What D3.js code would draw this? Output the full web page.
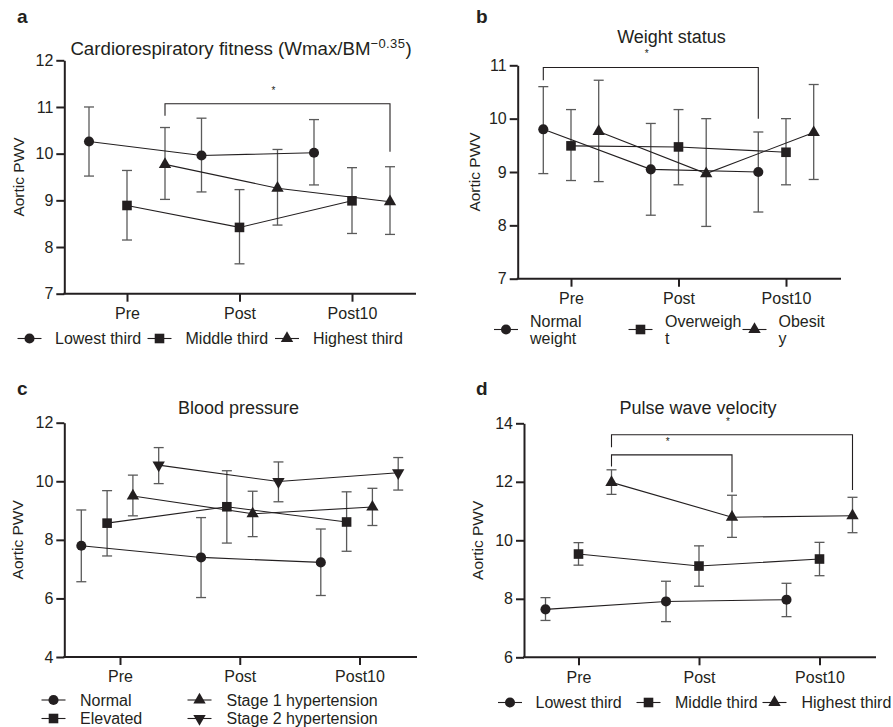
<!DOCTYPE html>
<html>
<head>
<meta charset="utf-8">
<script src="https://cdn.jsdelivr.net/npm/d3@7"></script>
<style>
  html, body { margin: 0; padding: 0; background: #fff; }
  svg { display: block; font-family: "Liberation Sans", Arial, Helvetica, sans-serif; }
</style>
</head>
<body>
<svg id="chart" width="893" height="727"></svg>
<script>
// ---------------- DATA ----------------
const timepoints = ["Pre", "Post", "Post10"];

// Panel a — Cardiorespiratory fitness
const aGroups = ["Lowest third", "Middle third", "Highest third"];
const aMean  = [[10.26, 9.96, 10.02], [8.89, 8.42, 8.99], [9.77, 9.26, 8.97]];
const aUpper = [[11.00, 10.76, 10.73], [9.64, 9.23, 9.70], [10.56, 10.09, 9.72]];
const aLower = [[9.52, 9.18, 9.33], [8.15, 7.64, 8.29], [9.02, 8.47, 8.27]];
const aTicks = [7, 8, 9, 10, 11, 12];
// significance brackets: [group, fromTime, toTime, top, leftEnd, rightEnd]
const aSig = [[2, 0, 2, 11.07, 10.81, 10.04]];

// Panel b — Weight status
const bGroups = [["Normal", "weight"], ["Overweigh", "t"], ["Obesit", "y"]];
const bMean  = [[9.80, 9.05, 9.00], [9.49, 9.47, 9.37], [9.76, 8.97, 9.74]];
const bUpper = [[10.60, 9.91, 9.75], [10.17, 10.17, 10.00], [10.72, 10.00, 10.64]];
const bLower = [[8.97, 8.19, 8.25], [8.84, 8.76, 8.76], [8.82, 7.98, 8.86]];
const bTicks = [7, 8, 9, 10, 11];
const bSig = [[0, 0, 2, 10.96, 10.72, 10.00]];

// Panel c — Blood pressure
const cGroups = ["Normal", "Elevated", "Stage 1 hypertension", "Stage 2 hypertension"];
const cMean  = [[7.80, 7.40, 7.23], [8.57, 9.13, 8.61], [9.50, 8.89, 9.12], [10.55, 9.99, 10.29]];
const cUpper = [[9.02, 8.76, 8.37], [9.68, 10.36, 9.64], [10.21, 9.66, 9.76], [11.15, 10.66, 10.81]];
const cLower = [[6.57, 6.03, 6.10], [7.45, 7.89, 7.61], [8.82, 8.11, 8.49], [9.92, 9.30, 9.70]];
const cTicks = [4, 6, 8, 10, 12];
const cSig = [];

// Panel d — Pulse wave velocity
const dGroups = ["Lowest third", "Middle third", "Highest third"];
const dMean  = [[7.64, 7.91, 7.97], [9.53, 9.12, 9.36], [11.98, 10.79, 10.84]];
const dUpper = [[8.04, 8.60, 8.53], [9.92, 9.81, 9.93], [12.41, 11.54, 11.47]];
const dLower = [[7.26, 7.22, 7.39], [9.15, 8.43, 8.79], [11.57, 10.10, 10.26]];
const dTicks = [6, 8, 10, 12, 14];
const dSig = [[2, 0, 2, 13.61, 13.18, 11.72], [2, 0, 1, 12.92, 12.52, 11.64]];

const markerTypes = ["circle", "square", "triangle", "triangleDown"];

// ---------------- DRAWING ----------------
const svg = d3.select("#chart");
const INK = "#231f20";
const BAR = "#5a5a5a";
const FONT = 16;

function symbolPath(type) {
  if (type === "circle") return d3.symbol().type(d3.symbolCircle).size(80)();
  if (type === "square") return d3.symbol().type(d3.symbolSquare).size(92)();
  return d3.symbol().type(d3.symbolTriangle).size(66)();
}
function drawMarker(g, type, x, y) {
  g.append("path")
    .attr("d", symbolPath(type))
    .attr("transform", `translate(${x},${y})` + (type === "triangleDown" ? " rotate(180)" : ""))
    .attr("fill", INK);
}

function drawPanel(cfg) {
  const g = svg.append("g");
  const y = d3.scaleLinear().domain(cfg.yDomain).range([cfg.bottom, cfg.top]);
  const x = d3.scalePoint().domain(timepoints).range(cfg.xTicks);
  const off = d3.scalePoint().domain(d3.range(cfg.mean.length)).range([-cfg.offset, cfg.offset]);
  const px = (gi, ti) => x(timepoints[ti]) + off(gi);

  // panel letter
  g.append("text").attr("x", cfg.letterPos[0]).attr("y", cfg.letterPos[1])
    .attr("font-size", 19).attr("font-weight", "bold").attr("fill", INK).text(cfg.letter);

  // title
  const t = g.append("text").attr("x", cfg.titlePos[0]).attr("y", cfg.titlePos[1])
    .attr("text-anchor", "middle").attr("font-size", cfg.titleSize || 18).attr("fill", INK);
  t.append("tspan").text(cfg.title);
  if (cfg.titleSup) {
    t.append("tspan").attr("font-size", 13).attr("dy", -6.5).attr("letter-spacing", 0.4).text(cfg.titleSup);
    t.append("tspan").attr("dy", 6.5).text(cfg.titleEnd);
  }

  // y axis
  const ya = g.append("g").attr("transform", `translate(${cfg.left},0)`)
    .call(d3.axisLeft(y).tickValues(cfg.ticks).tickSize(8).tickPadding(3).tickSizeOuter(0).tickFormat(d3.format("d")));
  ya.selectAll("path, line").attr("stroke", INK).attr("stroke-width", 2);
  ya.selectAll("text").attr("font-size", FONT).attr("fill", INK).attr("font-family", null);

  // x axis
  const xa = g.append("g").attr("transform", `translate(0,${cfg.bottom})`)
    .call(d3.axisBottom(x).tickSize(8).tickPadding(6).tickSizeOuter(0));
  xa.select(".domain").remove();
  xa.selectAll("line").attr("stroke", INK).attr("stroke-width", 2);
  xa.selectAll("text").attr("font-size", FONT).attr("fill", INK).attr("font-family", null);
  g.append("line").attr("x1", cfg.left - 1).attr("x2", cfg.right)
    .attr("y1", cfg.bottom).attr("y2", cfg.bottom).attr("stroke", INK).attr("stroke-width", 2);

  // y label
  g.append("text")
    .attr("transform", `translate(${cfg.yLabelX},${(cfg.top + cfg.bottom) / 2}) rotate(-90)`)
    .attr("text-anchor", "middle").attr("dy", "0.35em")
    .attr("font-size", 15.5).attr("fill", INK).text("Aortic PWV");

  // series
  cfg.mean.forEach((row, gi) => {
    row.forEach((v, ti) => {
      const cx = px(gi, ti);
      const hi = y(cfg.upper[gi][ti]), lo = y(cfg.lower[gi][ti]);
      const eg = g.append("g").attr("stroke", BAR).attr("stroke-width", 1.3);
      eg.append("line").attr("x1", cx).attr("x2", cx).attr("y1", hi).attr("y2", lo);
      eg.append("line").attr("x1", cx - 5).attr("x2", cx + 5).attr("y1", hi).attr("y2", hi);
      eg.append("line").attr("x1", cx - 5).attr("x2", cx + 5).attr("y1", lo).attr("y2", lo);
    });
  });
  cfg.mean.forEach((row, gi) => {
    const line = d3.line().x((d, ti) => px(gi, ti)).y(d => y(d));
    g.append("path").datum(row).attr("d", line)
      .attr("fill", "none").attr("stroke", INK).attr("stroke-width", 1.1);
    row.forEach((v, ti) => drawMarker(g, markerTypes[gi], px(gi, ti), y(v)));
  });

  // significance brackets
  cfg.sig.forEach(s => {
    const [gi, t0, t1, top, lEnd, rEnd] = s;
    const x0 = px(gi, t0), x1 = px(gi, t1);
    g.append("path")
      .attr("d", `M${x0},${y(lEnd)}V${y(top)}H${x1}V${y(rEnd)}`)
      .attr("fill", "none").attr("stroke", INK).attr("stroke-width", 1.1);
    g.append("text").attr("x", (x0 + x1) / 2 - 4).attr("y", y(top) - 10)
      .attr("text-anchor", "middle").attr("font-size", 10).attr("fill", INK).text("*");
  });

  // legend
  cfg.legend.forEach((L, gi) => {
    g.append("line").attr("x1", L.mx - 12).attr("x2", L.mx + 12)
      .attr("y1", L.my).attr("y2", L.my).attr("stroke", INK).attr("stroke-width", 1.1);
    drawMarker(g, markerTypes[gi], L.mx, L.my);
    const label = Array.isArray(cfg.groups[gi]) ? cfg.groups[gi] : [cfg.groups[gi]];
    const tx = g.append("text").attr("x", L.tx).attr("y", L.ty)
      .attr("font-size", FONT).attr("fill", INK);
    label.forEach((s, i) => tx.append("tspan").attr("x", L.tx).attr("dy", i === 0 ? 0 : 17).text(s));
  });
}

drawPanel({
  letter: "a", letterPos: [17, 23],
  title: "Cardiorespiratory fitness (Wmax/BM", titleSup: "\u22120.35", titleEnd: ")", titlePos: [241, 54.5], titleSize: 18.7,
  mean: aMean, upper: aUpper, lower: aLower, ticks: aTicks, sig: aSig, groups: aGroups,
  yDomain: [7, 12], top: 60.3, bottom: 293.7, left: 64.3, right: 416,
  xTicks: [127, 352], offset: 38, yLabelX: 19,
  legend: [
    { mx: 29.5, my: 338.5, tx: 55, ty: 344 },
    { mx: 159.5, my: 338.5, tx: 185.5, ty: 344 },
    { mx: 287, my: 338.5, tx: 313, ty: 344 }
  ]
});

drawPanel({
  letter: "b", letterPos: [476, 23],
  title: "Weight status", titlePos: [671.5, 42.5],
  mean: bMean, upper: bUpper, lower: bLower, ticks: bTicks, sig: bSig, groups: bGroups,
  yDomain: [7, 11], top: 65.3, bottom: 278.7, left: 517.7, right: 841,
  xTicks: [571, 786], offset: 27.7, yLabelX: 475,
  legend: [
    { mx: 506, my: 329.5, tx: 530, ty: 326.5 },
    { mx: 640.5, my: 329.5, tx: 665, ty: 326.5 },
    { mx: 754.5, my: 329.5, tx: 778.5, ty: 326.5 }
  ]
});

drawPanel({
  letter: "c", letterPos: [17, 395],
  title: "Blood pressure", titlePos: [238.5, 414],
  mean: cMean, upper: cUpper, lower: cLower, ticks: cTicks, sig: cSig, groups: cGroups,
  yDomain: [4, 12], top: 422.7, bottom: 657, left: 64.3, right: 417,
  xTicks: [120, 359.5], offset: 38.7, yLabelX: 18,
  legend: [
    { mx: 53.5, my: 700, tx: 80, ty: 705.5 },
    { mx: 53.5, my: 718.5, tx: 80, ty: 724 },
    { mx: 199.5, my: 700, tx: 226.5, ty: 705.5 },
    { mx: 199.5, my: 718.5, tx: 226.5, ty: 724 }
  ]
});

drawPanel({
  letter: "d", letterPos: [476, 395],
  title: "Pulse wave velocity", titlePos: [698, 414],
  mean: dMean, upper: dUpper, lower: dLower, ticks: dTicks, sig: dSig, groups: dGroups,
  yDomain: [6, 14], top: 423.3, bottom: 657.3, left: 524, right: 876,
  xTicks: [578.5, 819.5], offset: 33, yLabelX: 477.5,
  legend: [
    { mx: 510, my: 702.5, tx: 535.5, ty: 708 },
    { mx: 648.5, my: 702.5, tx: 675, ty: 708 },
    { mx: 774.5, my: 702.5, tx: 801.5, ty: 708 }
  ]
});
</script>
</body>
</html>
